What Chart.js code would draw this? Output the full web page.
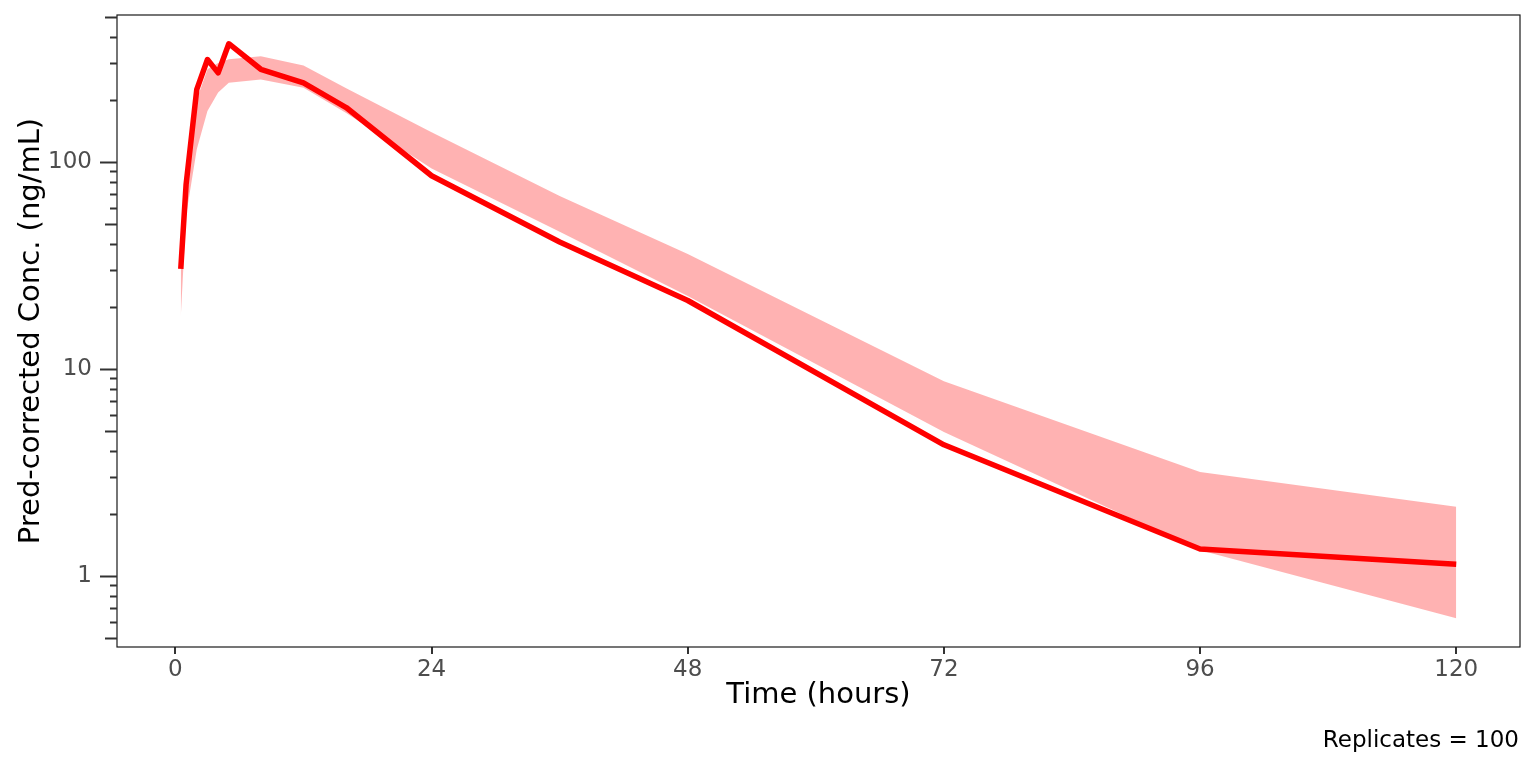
<!DOCTYPE html>
<html>
<head>
<meta charset="utf-8">
<title>VPC - Pred-corrected Conc.</title>
<script src="https://cdn.jsdelivr.net/npm/chart.js@4.4.1/dist/chart.umd.min.js"></script>
<style>
  html, body { margin: 0; padding: 0; background: #fff; }
  #vpc { display: block; }
</style>
</head>
<body>
<canvas id="vpc" width="1536" height="768"></canvas>
<script>
// Time points (hours)
const times = [0.5, 1, 2, 3, 4, 5, 8, 12, 16, 24, 36, 48, 72, 96, 120];
// observed median line (ng/mL)
const obsMedian = [30.4, 78, 224, 312, 269, 372, 280, 241, 183, 85.7, 41, 21.4, 4.3, 1.35, 1.14];
// simulated CI band
const ciLower = [17.8, 55, 115, 176, 216, 241, 250, 228, 172, 93, 46, 22.5, 4.96, 1.33, 0.625];
const ciUpper = [32, 90, 200, 280, 300, 313, 324, 292, 227, 139, 68.5, 35.9, 8.73, 3.18, 2.16];

const xTickValues = [0, 24, 48, 72, 96, 120];
const yLabelValues = [1, 10, 100];
const yTickValues = [0.5, 0.6, 0.7, 0.8, 0.9, 1, 2, 3, 4, 5, 6, 7, 8, 9,
    10, 20, 30, 40, 50, 60, 70, 80, 90, 100, 200, 300, 400, 500];

const FONT = "'DejaVu Sans', sans-serif";

function pairs(ys) {
    return times.map((t, i) => ({ x: t, y: ys[i] }));
}

// frame, log ticks, titles and caption
const decorPlugin = {
    id: 'decor',
    afterDraw(chart) {
        const { ctx, chartArea: a, scales } = chart;
        const y = scales.y;
        ctx.save();
        // panel frame
        ctx.strokeStyle = '#1a1a1a';
        ctx.lineWidth = 1.2;
        ctx.strokeRect(a.left, a.top, a.right - a.left, a.bottom - a.top);

        // log ticks on the y axis
        ctx.strokeStyle = '#333333';
        yTickValues.forEach(v => {
            const py = Math.round(y.getPixelForValue(v)) + 0.5;
            const lead = v / Math.pow(10, Math.floor(Math.log10(v) + 1e-9));
            let len = 7;
            if (Math.abs(lead - 1) < 1e-6) len = 17;
            else if (Math.abs(lead - 5) < 1e-6) len = 12;
            ctx.lineWidth = 2;
            ctx.beginPath();
            ctx.moveTo(a.left - len, py);
            ctx.lineTo(a.left, py);
            ctx.stroke();
        });

        // axis titles
        ctx.fillStyle = '#000';
        ctx.font = '29px ' + FONT;
        ctx.textAlign = 'center';
        ctx.textBaseline = 'alphabetic';
        ctx.fillText('Time (hours)', (a.left + a.right) / 2, 703);

        ctx.save();
        ctx.translate(38.5, (a.top + a.bottom) / 2);
        ctx.rotate(-Math.PI / 2);
        ctx.fillText('Pred-corrected Conc. (ng/mL)', 0, 0);
        ctx.restore();

        // caption
        ctx.font = '23px ' + FONT;
        ctx.textAlign = 'right';
        ctx.fillText('Replicates = 100', 1519, 747);
        ctx.restore();
    }
};

new Chart(document.getElementById('vpc'), {
    type: 'line',
    data: {
        datasets: [
            {
                label: 'Observed median',
                data: pairs(obsMedian),
                borderColor: '#ff0000',
                borderWidth: 5.5,
                borderJoinStyle: 'round',
                borderCapStyle: 'butt',
                pointRadius: 0,
                fill: false,
                order: 0
            },
            {
                label: 'Upper',
                data: pairs(ciUpper),
                borderWidth: 0,
                pointRadius: 0,
                backgroundColor: 'rgba(255, 0, 0, 0.3)',
                fill: '+1',
                order: 1
            },
            {
                label: 'Lower',
                data: pairs(ciLower),
                borderWidth: 0,
                pointRadius: 0,
                fill: false,
                order: 2
            }
        ]
    },
    options: {
        responsive: false,
        animation: false,
        devicePixelRatio: 1,
        layout: { padding: { top: 15, right: 16, left: 0, bottom: 0 } },
        plugins: {
            legend: { display: false },
            tooltip: { enabled: false }
        },
        scales: {
            x: {
                type: 'linear',
                min: -5.475,
                max: 125.975,
                afterBuildTicks: s => { s.ticks = xTickValues.map(v => ({ value: v })); },
                afterFit: s => { s.height = 121; s.paddingLeft = 0; s.paddingRight = 0; },
                border: { display: false },
                grid: {
                    drawOnChartArea: false,
                    color: '#333333',
                    lineWidth: 2,
                    tickLength: 7
                },
                ticks: {
                    autoSkip: false,
                    maxRotation: 0,
                    color: '#4d4d4d',
                    font: { family: FONT, size: 23 },
                    padding: 2,
                    callback: v => String(v)
                }
            },
            y: {
                type: 'logarithmic',
                min: 0.454,
                max: 512,
                afterBuildTicks: s => { s.ticks = yTickValues.map(v => ({ value: v })); },
                afterFit: s => { s.width = 117; s.paddingTop = 0; s.paddingBottom = 0; },
                border: { display: false },
                grid: {
                    drawOnChartArea: false,
                    color: 'rgba(0,0,0,0)',
                    tickLength: 17
                },
                ticks: {
                    autoSkip: false,
                    color: '#4d4d4d',
                    font: { family: FONT, size: 23 },
                    padding: 8,
                    callback: v => yLabelValues.includes(v) ? String(v) : ''
                }
            }
        }
    },
    plugins: [decorPlugin]
});
</script>
</body>
</html>
